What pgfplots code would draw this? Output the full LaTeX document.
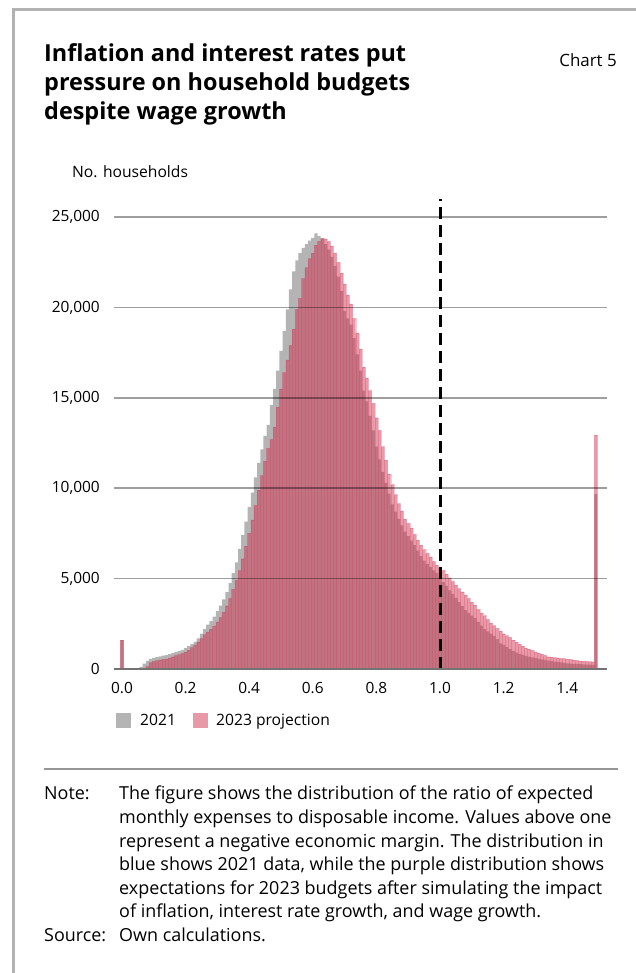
\documentclass[border=0pt]{standalone}
\usepackage{pgfplots}
\pgfplotsset{compat=1.18}
\usepackage{pgfplotstable}
\usepackage{fontspec}
\setmainfont{Open Sans}

\definecolor{gbar}{RGB}{180,180,180}
\definecolor{pbar}{RGB}{210,48,79}
\definecolor{plegend}{RGB}{232,153,168}
\definecolor{framec}{RGB}{178,178,178}
\definecolor{sepc}{RGB}{150,150,150}

% ratio bins (width 0.01): g = 2021, p = 2023 projection
\pgfplotstableread{
x g p
0.00 1600 1600
0.01 0 0
0.02 0 0
0.03 0 0
0.04 0 0
0.05 0 0
0.06 120 0
0.07 300 0
0.08 450 150
0.09 560 350
0.10 620 420
0.11 660 460
0.12 700 500
0.13 740 530
0.14 770 560
0.15 820 610
0.16 880 680
0.17 930 740
0.18 990 800
0.19 1050 870
0.20 1150 950
0.21 1260 1050
0.22 1380 1180
0.23 1500 1330
0.24 1700 1500
0.25 1950 1700
0.26 2200 1900
0.27 2450 2050
0.28 2650 2200
0.29 2900 2380
0.30 3200 2600
0.31 3500 2850
0.32 3850 3150
0.33 4250 3500
0.34 4750 3900
0.35 5300 4400
0.36 5900 4900
0.37 6650 5450
0.38 7400 6100
0.39 8150 6800
0.40 8950 7500
0.41 9750 8250
0.42 10600 9050
0.43 11400 9900
0.44 12150 10700
0.45 12900 11500
0.46 13500 12200
0.47 14600 12700
0.48 15500 13400
0.49 16500 14500
0.50 17600 15500
0.51 18700 16400
0.52 19900 17100
0.53 21000 17900
0.54 22000 18800
0.55 22600 19900
0.56 23000 20500
0.57 23300 21600
0.58 23500 22200
0.59 23700 22700
0.60 23850 23000
0.61 24100 23450
0.62 23950 23650
0.63 23800 23830
0.64 23500 23800
0.65 23200 23650
0.66 22800 23400
0.67 22300 23000
0.68 21700 22500
0.69 20900 21900
0.70 19800 21300
0.71 19400 20700
0.72 19050 20200
0.73 18300 19400
0.74 17400 18600
0.75 16500 17700
0.76 15400 16700
0.77 14800 16100
0.78 14000 15400
0.79 13200 14700
0.80 12300 13900
0.81 11600 13200
0.82 10900 12300
0.83 10300 11550
0.84 9700 10800
0.85 9100 10200
0.86 8700 9650
0.87 8300 9150
0.88 7950 8750
0.89 7600 8300
0.90 7350 8050
0.91 7100 7800
0.92 6850 7450
0.93 6550 7130
0.94 6250 6850
0.95 6000 6600
0.96 5800 6400
0.97 5650 6200
0.98 5450 5950
0.99 5300 5750
1.00 5050 5600
1.01 4800 5450
1.02 4600 5250
1.03 4350 5050
1.04 4150 4850
1.05 3930 4650
1.06 3700 4450
1.07 3480 4270
1.08 3260 4090
1.09 3100 3900
1.10 2950 3700
1.11 2820 3540
1.12 2600 3300
1.13 2400 3100
1.14 2200 2950
1.15 2080 2750
1.16 1950 2550
1.17 1830 2400
1.18 1650 2250
1.19 1420 2100
1.20 1330 1950
1.21 1220 1850
1.22 1100 1750
1.23 1000 1600
1.24 900 1480
1.25 830 1380
1.26 780 1280
1.27 720 1170
1.28 680 1100
1.29 640 1030
1.30 600 950
1.31 570 880
1.32 530 820
1.33 500 750
1.34 460 680
1.35 440 650
1.36 410 630
1.37 390 610
1.38 360 590
1.39 340 570
1.40 310 550
1.41 300 530
1.42 290 500
1.43 280 470
1.44 270 450
1.45 260 440
1.46 245 420
1.47 240 410
1.48 230 400
1.49 9680 12940
}\histdata

\begin{document}
\begin{tikzpicture}[x=1bp,y=1bp]
\useasboundingbox (0,0) rectangle (636,973);
% frame
\draw[framec, line width=2.5bp] (13.5,0) -- (13.5,963.5) -- (636,963.5);

% title
\begin{scope}[every node/.style={anchor=base west, inner sep=0pt, font=\fontsize{23.5}{29}\selectfont\bfseries}]
\node at (44,911) {Inflation and interest rates put};
\node at (44,882) {pressure on household budgets};
\node at (44,853) {despite wage growth};
\end{scope}
\node[anchor=base east, inner sep=0pt, font=\fontsize{17}{20}\selectfont] at (617,906) {Chart 5};
\node[anchor=base west, inner sep=0pt, font=\fontsize{15.7}{18}\selectfont] at (72,795) {No. households};

\begin{axis}[
  at={(114bp,304bp)}, anchor=south west,
  scale only axis, width=493bp, height=470bp,
  xmin=-0.025, xmax=1.525, ymin=0, ymax=26000,
  axis x line*=bottom, axis y line*=left,
  x axis line style={draw=black!55, line width=2bp, -},
  y axis line style={draw=none},
  major tick length=0pt,
  xtick={0,0.2,0.4,0.6,0.8,1.0,1.2,1.4},
  xticklabels={0.0,0.2,0.4,0.6,0.8,1.0,1.2,1.4},
  ytick={0,5000,10000,15000,20000,25000},
  scaled y ticks=false,
  ymajorgrids, grid style={black, opacity=0.38, line width=1.5bp},
  /pgf/number format/assume math mode=true,
  /pgf/number format/fixed,
  /pgf/number format/1000 sep={,},
  tick label style={font=\fontsize{15.5}{18}\selectfont, inner sep=0pt},
  yticklabel style={anchor=east, xshift=-14bp},
  xticklabel style={anchor=north, yshift=-13bp},
  axis on top,
  clip=false,
]
\addplot[ybar, bar width=0.01, bar shift=0pt, fill=gbar, draw=none] table[x=x, y=g] {\histdata};
\addplot[ybar, bar width=0.01, bar shift=0pt, fill=pbar, fill opacity=0.49, draw=pbar, draw opacity=0.25, line width=0.4bp] table[x=x, y=p] {\histdata};
\draw[black, line width=3bp, dash pattern=on 12bp off 6bp] (axis cs:1,0) -- (axis cs:1,26000);
\end{axis}

% legend
\fill[gbar] (116,245) rectangle (131,260);
\node[anchor=base west, inner sep=0pt, font=\fontsize{15.7}{18}\selectfont] at (140,247) {2021};
\fill[plegend] (193,245) rectangle (208,260);
\node[anchor=base west, inner sep=0pt, font=\fontsize{15.7}{18}\selectfont] at (216,247) {2023 projection};

% separator
\draw[sepc, line width=2bp] (44,204) -- (618,204);

% note and source
\begin{scope}[every node/.style={anchor=base west, inner sep=0pt, font=\fontsize{18}{23.6}\selectfont}]
\node at (44,173) {Note:};
\node at (119,173) {The figure shows the distribution of the ratio of expected};
\node at (119,149.4) {monthly expenses to disposable income. Values above one};
\node at (119,125.8) {represent a negative economic margin. The distribution in};
\node at (119,102.2) {blue shows 2021 data, while the purple distribution shows};
\node at (119,78.6) {expectations for 2023 budgets after simulating the impact};
\node at (119,55) {of inflation, interest rate growth, and wage growth.};
\node at (44,31.4) {Source:};
\node at (119,31.4) {Own calculations.};
\end{scope}
\end{tikzpicture}
\end{document}
